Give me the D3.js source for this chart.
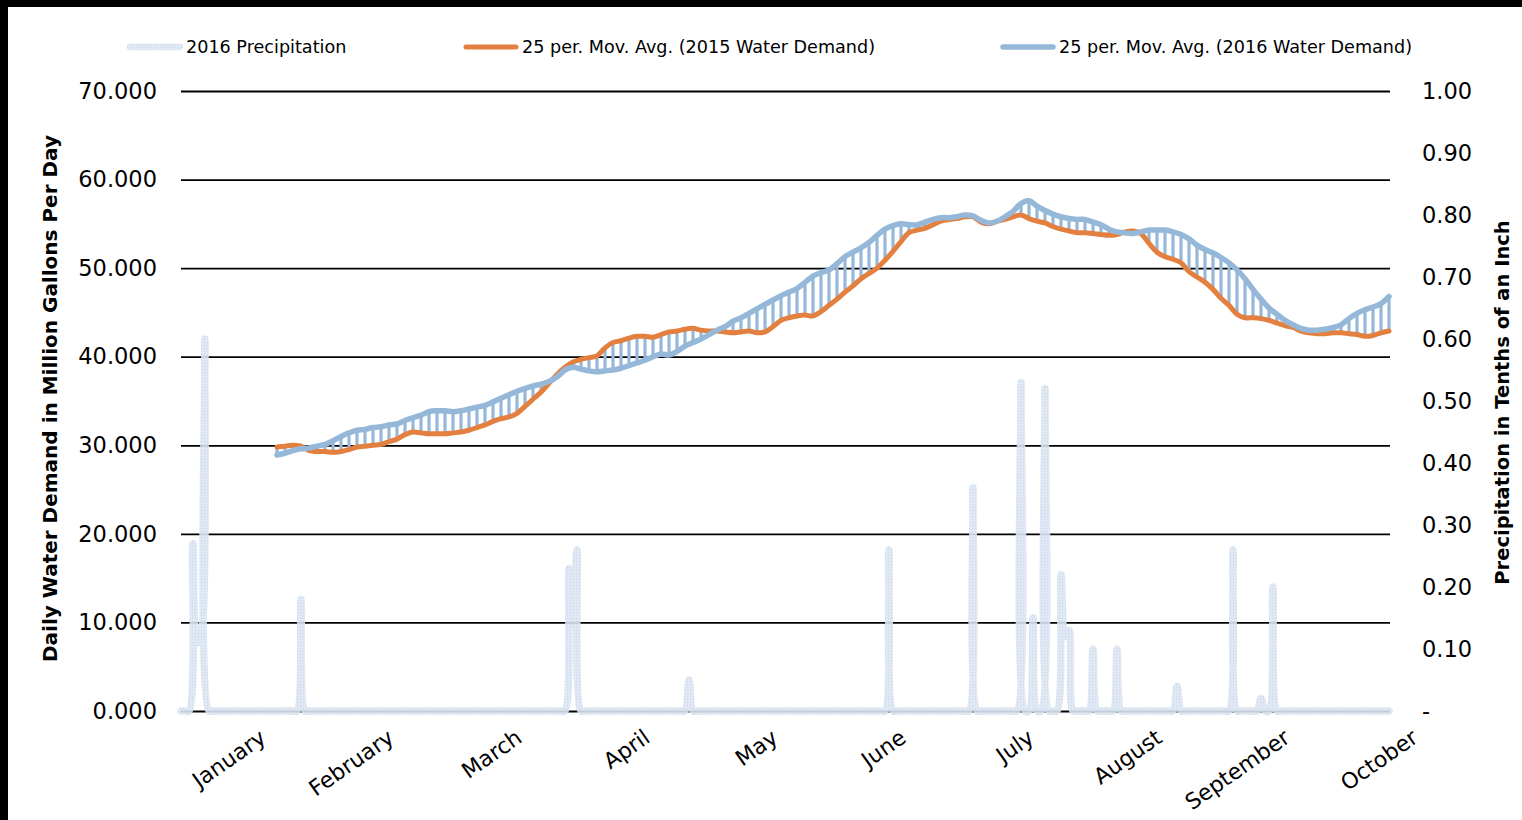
<!DOCTYPE html>
<html>
<head>
<meta charset="utf-8">
<script src="https://cdn.jsdelivr.net/npm/d3@7/dist/d3.min.js"></script>
<style>
  html, body { margin: 0; padding: 0; background: #fff; }
  svg { display: block; font-family: "DejaVu Sans", sans-serif; }
</style>
</head>
<body>
<svg id="chart" width="1522" height="820"></svg>
<script>
// ---------------- DATA ----------------
const months = ["January","February","March","April","May","June","July","August","September","October"];
const monthTickIdx = [0,32,64,96,128,160,192,224,256,288];
const leftTicks = [0,10,20,30,40,50,60,70];
const rightTicks = [0,0.1,0.2,0.3,0.4,0.5,0.6,0.7,0.8,0.9,1.0];

// 2016 daily precipitation (tenths of an inch), day index 0..302
const precipitation = [
  0,0,0,0.27,0.11,0.12,0.60,0,0,0,
  0,0,0,0,0,0,0,0,0,0,
  0,0,0,0,0,0,0,0,0,0,
  0.18,0,0,0,0,0,0,0,0,0,
  0,0,0,0,0,0,0,0,0,0,
  0,0,0,0,0,0,0,0,0,0,
  0,0,0,0,0,0,0,0,0,0,
  0,0,0,0,0,0,0,0,0,0,
  0,0,0,0,0,0,0,0,0,0,
  0,0,0,0,0,0,0,0.23,0.14,0.26,
  0,0,0,0,0,0,0,0,0,0,
  0,0,0,0,0,0,0,0,0,0,
  0,0,0,0,0,0,0,0.05,0,0,
  0,0,0,0,0,0,0,0,0,0,
  0,0,0,0,0,0,0,0,0,0,
  0,0,0,0,0,0,0,0,0,0,
  0,0,0,0,0,0,0,0,0,0,
  0,0,0,0,0,0,0,0.26,0,0,
  0,0,0,0,0,0,0,0,0,0,
  0,0,0,0,0,0,0,0,0.36,0,
  0,0,0,0,0,0,0,0,0,0,
  0.53,0,0,0.15,0,0,0.52,0,0,0,
  0.22,0.12,0.13,0,0,0,0,0,0.10,0,
  0,0,0,0,0.10,0,0,0,0,0,
  0,0,0,0,0,0,0,0,0,0.04,
  0,0,0,0,0,0,0,0,0,0,
  0,0,0,0.26,0,0,0,0,0,0,
  0.02,0,0,0.20,0,0,0,0,0,0,
  0,0,0,0,0,0,0,0,0,0,
  0,0,0,0,0,0,0,0,0,0,
  0,0,0
];

// 25-period moving averages, sampled every 2nd day starting at day 24
const maStartDay = 24;
const maStepDays = 2;
const demand2016 = [
  28.9,29.1,29.4,29.6,29.7,29.9,30.1,30.5,31.0,31.4,
  31.7,31.8,32.0,32.1,32.3,32.4,32.8,33.1,33.4,33.8,
  33.9,33.9,33.8,33.9,34.1,34.3,34.5,34.9,35.3,35.7,
  36.1,36.4,36.7,36.9,37.2,37.7,38.5,38.8,38.6,38.4,
  38.3,38.4,38.5,38.7,39.0,39.3,39.6,40.0,40.3,40.2,
  40.6,41.2,41.6,42.0,42.5,43.0,43.4,44.0,44.4,44.9,
  45.4,45.9,46.4,46.9,47.3,47.7,48.4,49.1,49.5,49.8,
  50.5,51.3,51.8,52.3,52.9,53.7,54.4,54.8,55.0,54.9,
  54.9,55.2,55.5,55.7,55.7,55.8,56.0,55.9,55.4,55.1,
  55.3,55.8,56.4,57.3,57.6,57.0,56.5,56.1,55.8,55.6,
  55.5,55.5,55.2,54.9,54.4,54.1,54.0,53.9,54.1,54.3,
  54.3,54.3,54.1,53.8,53.3,52.6,52.1,51.7,51.2,50.6,
  49.8,48.8,47.6,46.5,45.5,44.8,44.1,43.6,43.2,43.0,
  43.0,43.1,43.3,43.6,44.3,44.9,45.3,45.6,46.0,46.8
];
const demand2015 = [
  29.8,29.9,30.0,29.9,29.4,29.3,29.3,29.2,29.3,29.5,
  29.8,29.9,30.0,30.1,30.4,30.7,31.2,31.5,31.4,31.3,
  31.3,31.3,31.4,31.5,31.7,32.0,32.3,32.7,33.0,33.2,
  33.6,34.4,35.2,36.0,37.0,38.0,38.8,39.4,39.7,39.9,
  40.1,41.0,41.6,41.8,42.1,42.3,42.3,42.2,42.5,42.8,
  42.9,43.1,43.2,43.0,42.9,42.9,42.8,42.7,42.8,42.9,
  42.7,42.8,43.4,44.1,44.4,44.6,44.7,44.6,45.1,45.8,
  46.5,47.3,48.0,48.8,49.4,50.0,50.9,51.9,53.0,54.0,
  54.3,54.5,54.9,55.3,55.5,55.6,55.8,55.8,55.2,55.0,
  55.3,55.5,55.8,56.0,55.6,55.3,55.1,54.7,54.4,54.2,
  54.0,54.0,53.9,53.8,53.7,53.8,54.1,54.2,53.9,52.8,
  51.8,51.3,51.0,50.6,49.6,49.0,48.4,47.6,46.6,45.8,
  44.8,44.4,44.4,44.3,44.1,43.8,43.5,43.3,42.9,42.7,
  42.6,42.6,42.7,42.7,42.6,42.5,42.3,42.4,42.7,42.9
];

const legendItems = ["2016 Precipitation","25 per. Mov. Avg. (2015 Water Demand)","25 per. Mov. Avg. (2016 Water Demand)"];

// ---------------- LAYOUT ----------------
const W = 1522, H = 820;
const plot = {left: 181, right: 1390, top: 91, bottom: 711};
const C = {orange: "#e4803f", blue: "#95b8d9", precip: "#dbe6f1"};

const svg = d3.select("#chart");

// frame (top and left dark edges)
svg.append("rect").attr("x",0).attr("y",0).attr("width",W).attr("height",7).attr("fill","#000");
svg.append("rect").attr("x",0).attr("y",0).attr("width",8).attr("height",H).attr("fill","#000");

const defs = svg.append("defs");
const pat = defs.append("pattern").attr("id","precipPat").attr("patternUnits","userSpaceOnUse")
  .attr("width",3).attr("height",3);
pat.append("rect").attr("width",3).attr("height",3).attr("fill",C.precip).attr("fill-opacity",0.88);
pat.append("rect").attr("width",1).attr("height",1).attr("fill","#c6d7e9");

const x = d3.scaleLinear().domain([0, precipitation.length - 1]).range([plot.left, plot.right - 1]);
const yL = d3.scaleLinear().domain([0, 70]).range([plot.bottom, plot.top]);
const yR = d3.scaleLinear().domain([0, 1]).range([plot.bottom, plot.top]);

// gridlines
svg.append("g").attr("class","grid")
  .attr("transform",`translate(${plot.left},0)`)
  .call(d3.axisLeft(yL).tickValues(leftTicks).tickSize(-(plot.right - plot.left)).tickFormat(""))
  .call(g => g.select(".domain").remove())
  .call(g => g.selectAll("line").attr("stroke","#000").attr("stroke-width",1.8));

// left axis labels
svg.append("g")
  .attr("transform",`translate(${plot.left},0)`)
  .call(d3.axisLeft(yL).tickValues(leftTicks).tickSize(0).tickPadding(24).tickFormat(d3.format(".3f")))
  .call(g => g.select(".domain").remove())
  .call(g => g.selectAll("text").attr("font-family","DejaVu Sans").attr("font-size",22.5).attr("fill","#000"));

// right axis labels
svg.append("g")
  .attr("transform",`translate(${plot.right},0)`)
  .call(d3.axisRight(yR).tickValues(rightTicks).tickSize(0).tickPadding(32)
     .tickFormat(d => d === 0 ? "-" : d3.format(".2f")(d)))
  .call(g => g.select(".domain").remove())
  .call(g => g.selectAll("text").attr("font-family","DejaVu Sans").attr("font-size",22.5).attr("fill","#000"));

// x axis month labels
svg.append("g")
  .attr("transform",`translate(0,${plot.bottom})`)
  .call(d3.axisBottom(x).tickValues(monthTickIdx).tickSize(0).tickFormat((d,i) => months[i]))
  .call(g => g.select(".domain").remove())
  .call(g => g.selectAll("text")
     .attr("font-family","DejaVu Sans").attr("font-size",22).attr("fill","#000")
     .attr("x",0).attr("y",0).attr("dy",0)
     .attr("text-anchor","end")
     .attr("transform","translate(86,30) rotate(-35)"));

// axis titles
svg.append("text")
  .attr("transform",`translate(57,${(135+662)/2}) rotate(-90)`)
  .attr("text-anchor","middle").attr("font-weight","bold").attr("font-size",20)
  .text("Daily Water Demand in Million Gallons Per Day");
svg.append("text")
  .attr("transform",`translate(1509,${(222+583)/2}) rotate(-90)`)
  .attr("text-anchor","middle").attr("font-weight","bold").attr("font-size",19.5)
  .text("Precipitation in Tenths of an Inch");

// moving average series
const maPts = (arr) => arr.map((v,i) => ({d: maStartDay + i*maStepDays, v}));
const s2016 = maPts(demand2016), s2015 = maPts(demand2015);

// high-low lines
svg.append("g").selectAll("line").data(s2016).join("line")
  .attr("x1", d => x(d.d)).attr("x2", d => x(d.d))
  .attr("y1", (d,i) => yL(Math.max(d.v, s2015[i].v)))
  .attr("y2", (d,i) => yL(Math.min(d.v, s2015[i].v)))
  .attr("stroke", C.blue).attr("stroke-width", 3.2);

const maLine = d3.line().x(d => x(d.d)).y(d => yL(d.v)).curve(d3.curveCatmullRom);
svg.append("path").datum(s2015).attr("d", maLine)
  .attr("fill","none").attr("stroke",C.orange).attr("stroke-width",5).attr("stroke-linejoin","round").attr("stroke-linecap","round");
svg.append("path").datum(s2016).attr("d", maLine)
  .attr("fill","none").attr("stroke",C.blue).attr("stroke-width",5.5).attr("stroke-linejoin","round").attr("stroke-linecap","round");

// precipitation line
const pLine = d3.line().x((d,i) => x(i)).y(d => yR(d)).curve(d3.curveCatmullRom);
svg.append("path").datum(precipitation).attr("d", pLine)
  .attr("fill","none").attr("stroke","url(#precipPat)").attr("stroke-width",7.5)
  .attr("stroke-linejoin","round").attr("stroke-linecap","round");

// legend
const legendX = [127, 463, 1000];
const legendStroke = ["url(#precipPat)", C.orange, C.blue];
const legendW = [6.5, 5, 5.5];
const lg = svg.append("g").selectAll("g").data(legendItems).join("g")
  .attr("transform",(d,i) => `translate(${legendX[i]},47)`);
lg.append("line").attr("x1",3).attr("x2",53).attr("y1",0).attr("y2",0)
  .attr("stroke",(d,i) => legendStroke[i]).attr("stroke-width",(d,i) => legendW[i]).attr("stroke-linecap","round");
lg.append("text").attr("x",59).attr("y",0).attr("dy","0.35em")
  .attr("font-size",17.6).attr("fill","#000").text(d => d);
</script>
</body>
</html>
